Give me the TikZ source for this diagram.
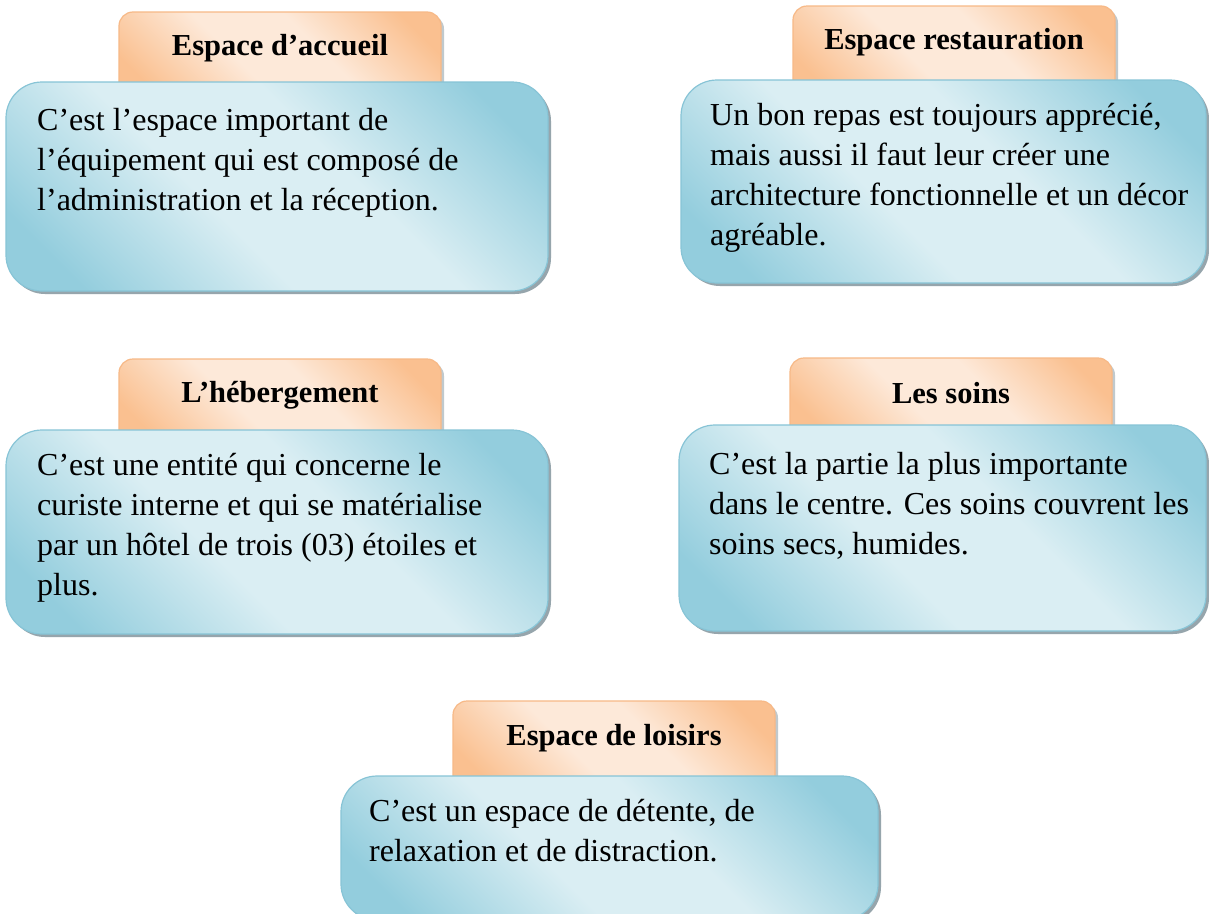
\documentclass[tikz,border=0pt]{standalone}
\usepackage{fontspec}
\setmainfont{Liberation Serif}
\definecolor{ordark}{RGB}{250,192,144}
\definecolor{orlight}{RGB}{253,233,217}
\definecolor{orborder}{RGB}{247,185,135}
\definecolor{bldark}{RGB}{147,205,221}
\definecolor{bllight}{RGB}{218,238,243}
\definecolor{blborder}{RGB}{135,196,214}
\definecolor{shadowc}{RGB}{150,165,172}
\pgfdeclareverticalshading{orshade}{100bp}{color(0bp)=(ordark); color(22bp)=(ordark); color(42bp)=(orlight); color(58bp)=(orlight); color(78bp)=(ordark); color(100bp)=(ordark)}
\pgfdeclareverticalshading{blshade}{100bp}{color(0bp)=(bldark); color(22bp)=(bldark); color(42bp)=(bllight); color(58bp)=(bllight); color(78bp)=(bldark); color(100bp)=(bldark)}
\tikzset{
  tabbox/.style={draw=orborder, line width=1.2pt, rounded corners=14pt, shading=orshade, shading angle=-45},
  tabshadow/.style={fill=shadowc, opacity=0.6, rounded corners=14pt},
  bodybox/.style={draw=blborder, line width=1.2pt, rounded corners=36pt, shading=blshade, shading angle=-45},
  bodyshadow/.style={fill=shadowc, rounded corners=36pt},
  tabtext/.style={font=\fontsize{30.5}{34}\selectfont\bfseries, inner sep=0pt},
  bodytext/.style={font=\fontsize{32}{40}\selectfont, align=left, anchor=north west, inner sep=0pt}
}
\begin{document}
\begin{tikzpicture}[x=1pt,y=-1pt]
\useasboundingbox (0,0) rectangle (1209,913);
\clip (0,0) rectangle (1209,913);
\fill[white] (0,0) rectangle (1209,913);
% ---- Box 1
\fill[tabshadow] (122,15) rectangle (444,100);
\path[tabbox] (119,12) rectangle (441,100);
\node[tabtext] (t1) at (280,48) {Espace d’accueil};
\fill[bodyshadow] (9,85) rectangle (551,294);
\path[bodybox] (6,82) rectangle (548,291);
\node[bodytext] (b1) at (37,108) {C’est l’espace important de\\l’équipement qui est composé de\\l’administration et la réception.};
% ---- Box 2
\fill[tabshadow] (796,9) rectangle (1118,100);
\path[tabbox] (793,6) rectangle (1115,100);
\node[tabtext] (t2) at (954,42) {Espace restauration};
\fill[bodyshadow] (684,83) rectangle (1209,286);
\path[bodybox] (681,80) rectangle (1206,283);
\node[bodytext] (b2) at (710,103) {Un bon repas est toujours apprécié,\\mais aussi il faut leur créer une\\architecture fonctionnelle et un décor\\agréable.};
% ---- Box 3
\fill[tabshadow] (122,362) rectangle (444,445);
\path[tabbox] (119,359) rectangle (441,445);
\node[tabtext] (t3) at (280,395) {L’hébergement};
\fill[bodyshadow] (9,433) rectangle (551,637);
\path[bodybox] (6,430) rectangle (548,634);
\node[bodytext] (b3) at (37,453) {C’est une entité qui concerne le\\curiste interne et qui se matérialise\\par un hôtel de trois (03) étoiles et\\plus.};
% ---- Box 4
\fill[tabshadow] (793,361) rectangle (1115,440);
\path[tabbox] (790,358) rectangle (1112,440);
\node[tabtext] (t4) at (951,393) {Les soins};
\fill[bodyshadow] (682,428) rectangle (1209,634);
\path[bodybox] (679,425) rectangle (1206,631);
\node[bodytext] (b4) at (709,452) {C’est la partie la plus importante\\dans le centre. Ces soins couvrent les\\soins secs, humides.};
% ---- Box 5
\fill[tabshadow] (456,704) rectangle (778,790);
\path[tabbox] (453,701) rectangle (775,790);
\node[tabtext] (t5) at (614,738) {Espace de loisirs};
\fill[bodyshadow] (344,779) rectangle (881,923);
\path[bodybox] (341,776) rectangle (878,920);
\node[bodytext] (b5) at (369,799) {C’est un espace de détente, de\\relaxation et de distraction.};
\end{tikzpicture}
\end{document}
